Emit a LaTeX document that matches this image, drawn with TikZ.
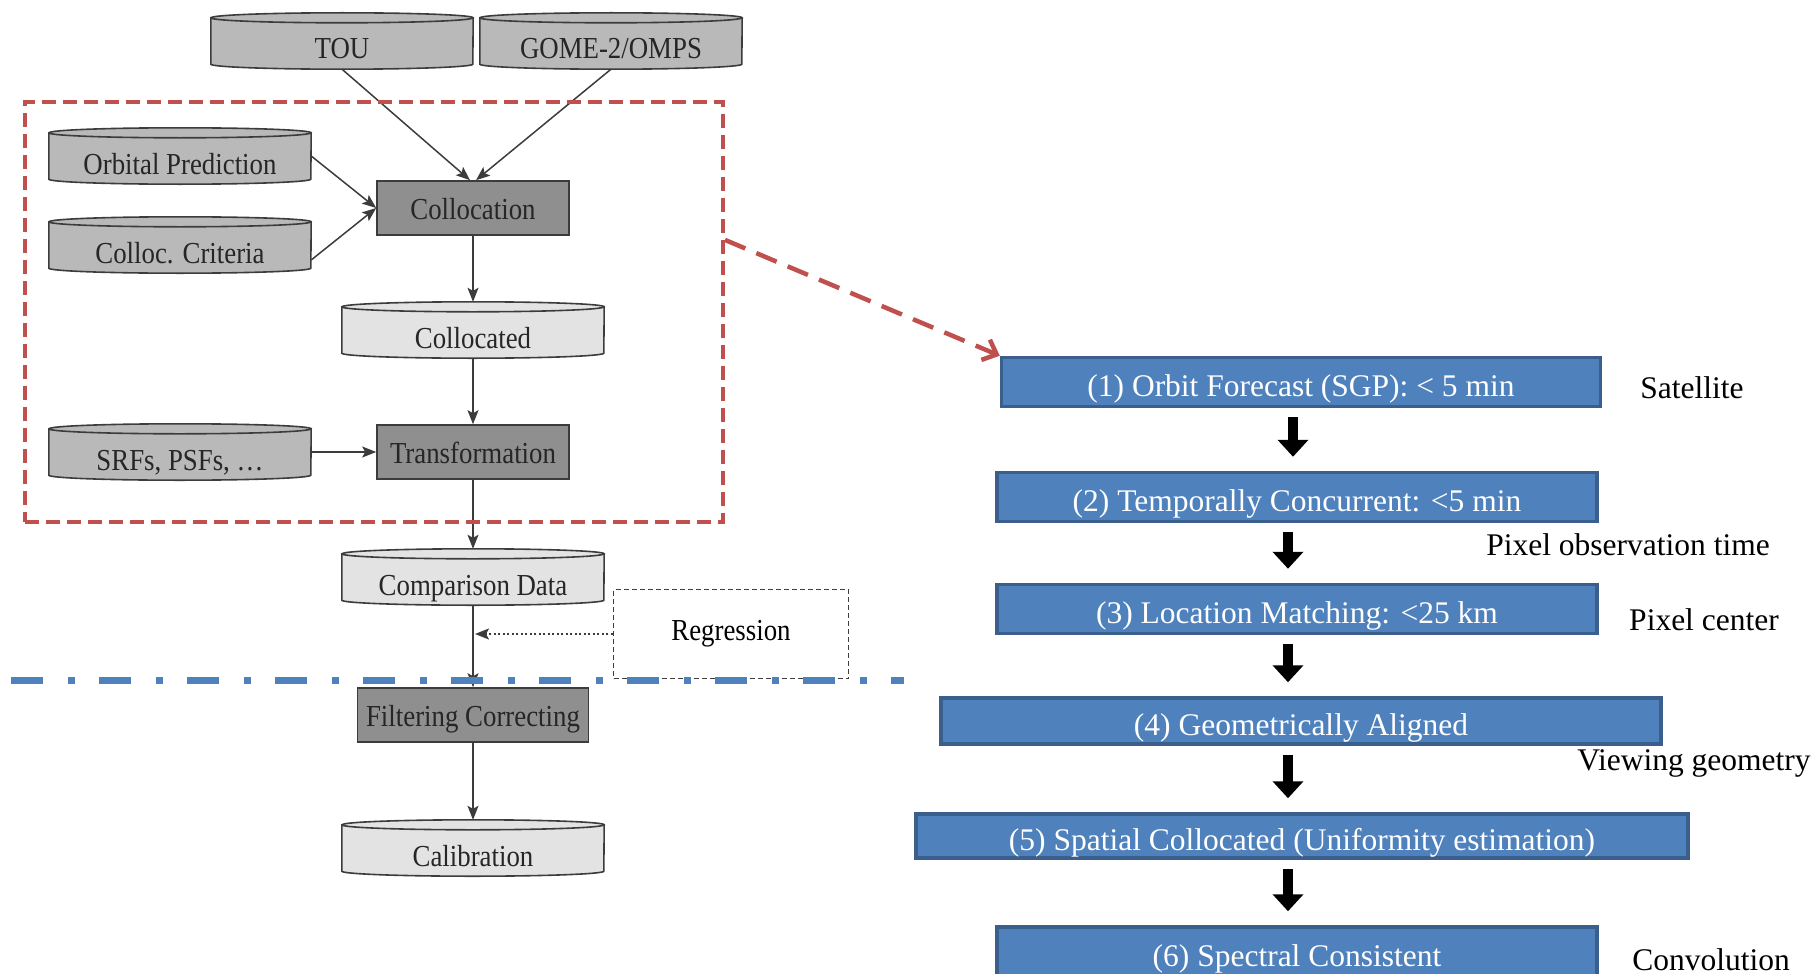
\documentclass[tikz,border=0pt]{standalone}
\usepackage{fontspec}
\setmainfont{Liberation Serif}
\newfontfamily\condserif[FakeStretch=0.88]{Liberation Serif}
\usetikzlibrary{arrows.meta,calc}
\definecolor{darkfill}{HTML}{8F8F8F}
\definecolor{midfill}{HTML}{B9B9B9}
\definecolor{lightfill}{HTML}{E3E3E3}
\definecolor{edgec}{HTML}{3C3C3C}
\definecolor{redd}{HTML}{C0504D}
\definecolor{bluef}{HTML}{4F81BD}
\definecolor{blued}{HTML}{3A5F8C}
\newcommand\lblfont{\condserif\fontsize{30.5pt}{34pt}\selectfont}
\newcommand\bigfont{\fontsize{31.5pt}{36pt}\selectfont}
\pgfdeclarelayer{bg}
\pgfsetlayers{bg,main}
\newcommand\drawcyl[2]{%
  \begin{pgfonlayer}{bg}
  \filldraw[fill=#2, draw=edgec, line width=1.6pt]
    ($(#1.north west)+(0,5)$) -- ($(#1.south west)+(0,-5)$)
    arc[start angle=180, end angle=0, x radius=131, y radius=5]
    -- ($(#1.north east)+(0,5)$)
    arc[start angle=0, end angle=-180, x radius=131, y radius=5] -- cycle;
  \draw[draw=edgec, line width=1.6pt] ($(#1.north west)+(0,5)$)
    arc[start angle=180, end angle=0, x radius=131, y radius=5];
  \end{pgfonlayer}}
\begin{document}
\begin{tikzpicture}[x=1pt,y=-1pt,
  arr/.style={draw=edgec, line width=1.5pt, -{Stealth[length=14pt,width=11pt,inset=3pt]}},
  cyl/.style={minimum width=262pt, minimum height=56pt, inner sep=0pt, text height=38pt, text depth=2pt, font=\lblfont, text=black!85},
  gbox/.style={draw=edgec, fill=darkfill, line width=1.6pt, minimum height=54pt, inner sep=0pt, text height=25pt, text depth=2pt, font=\lblfont, text=black!85},
  bbox/.style={draw=blued, fill=bluef, line width=3.5pt, text=white, inner sep=0pt, text height=30pt, text depth=2pt, font=\bigfont},
  side/.style={font=\bigfont, inner sep=0pt},
  blk/.style={line width=10pt, -{Triangle[length=17pt,width=30pt]}, shorten <=9pt, shorten >=14pt},
]
\useasboundingbox (0,0) rectangle (1818,974);
\clip (0,0) rectangle (1818,974);

% left flow chart
\node[cyl] (tou) at (342,41) {TOU};
\node[cyl] (gome) at (611,41) {GOME-2/OMPS};
\node[cyl] (orb) at (180,156) {Orbital Prediction};
\node[cyl] (crit) at (180,245) {Colloc. Criteria};
\node[gbox, minimum width=192pt] (coll) at (473,208) {Collocation};
\node[cyl] (cold) at (473,330) {Collocated};
\node[cyl] (srf) at (180,452) {SRFs, PSFs, \ldots};
\node[gbox, minimum width=192pt] (trans) at (473,452) {Transformation};
\node[cyl] (cmp) at (473,577) {Comparison Data};
\node[draw=edgec, line width=1.5pt, dash pattern=on 5pt off 3pt, minimum width=235pt, minimum height=89pt, inner sep=0pt, font=\lblfont] (reg) at (731,634) {Regression};
\node[gbox, minimum width=231pt] (filt) at (473,715) {Filtering Correcting};
\node[cyl] (cal) at (473,848) {Calibration};

\drawcyl{tou}{midfill}
\drawcyl{gome}{midfill}
\drawcyl{orb}{midfill}
\drawcyl{crit}{midfill}
\drawcyl{srf}{midfill}
\drawcyl{cold}{lightfill}
\drawcyl{cmp}{lightfill}
\drawcyl{cal}{lightfill}

\draw[arr] (tou.south) -- ([xshift=-3pt]coll.north);
\draw[arr] (gome.south) -- ([xshift=3pt]coll.north);
\draw[arr] (orb.east) -- (coll.west);
\draw[arr] ($(crit.east)+(0,15)$) -- (coll.west);
\draw[arr] (coll.south) -- (cold.north);
\draw[arr] (cold.south) -- (trans.north);
\draw[arr] (srf.east) -- (trans.west);
\draw[arr] (trans.south) -- (cmp.north);
\draw[arr] (cmp.south) -- (filt.north);
\draw[arr, dash pattern=on 2pt off 2.5pt, shorten >=2pt] (reg.west) -- (reg.west -| cmp.south);
\draw[arr] (filt.south) -- (cal.north);

% red zoom frame
\node[draw=redd, line width=4pt, dash pattern=on 14pt off 7pt, minimum width=698pt, minimum height=420pt, inner sep=0pt] (frame) at (374,312) {};

% right steps
\node[bbox, minimum width=599pt, minimum height=49pt] (b1) at (1301,382) {(1) Orbit Forecast (SGP): < 5 min};
\node[bbox, minimum width=600pt, minimum height=49pt] (b2) at (1297,497) {(2) Temporally Concurrent: <5 min};
\node[bbox, minimum width=600pt, minimum height=49pt] (b3) at (1297,609) {(3) Location Matching: <25 km};
\node[bbox, minimum width=720pt, minimum height=46pt] (b4) at (1301,721) {(4) Geometrically Aligned};
\node[bbox, minimum width=772pt, minimum height=44pt] (b5) at (1302,836) {(5) Spatial Collocated (Uniformity estimation)};
\node[bbox, minimum width=600pt, minimum height=50pt] (b6) at (1297,952) {(6) Spectral Consistent};

\node[side] (sat) at (1692,388) {Satellite};
\node[side] (pot) at (1628,545) {Pixel observation time};
\node[side] (pc) at (1704,620) {Pixel center};
\node[side] (vg) at (1694,763) {Viewing geometry};
\node[side] (conv) at (1711,960) {Convolution};

\coordinate (axa) at (1293,0);
\coordinate (axb) at (1288,0);
\draw[blk] (b1.south -| axa) -- (b2.north -| axa);
\draw[blk] (b2.south -| axb) -- (b3.north -| axb);
\draw[blk] (b3.south -| axb) -- (b4.north -| axb);
\draw[blk] (b4.south -| axb) -- (b5.north -| axb);
\draw[blk] (b5.south -| axb) -- (b6.north -| axb);

\draw[draw=redd, line width=4.5pt, dash pattern=on 22pt off 12pt, -{Straight Barb[length=12pt,width=22pt]}]
  ($(frame.north east)!0.33!(frame.south east)$) -- (b1.north west);

% blue dash-dot divider
\draw[bluef, line width=7pt, dash pattern=on 32pt off 25pt on 7pt off 24pt] (11,680) -- (904,680);
\end{tikzpicture}
\end{document}
